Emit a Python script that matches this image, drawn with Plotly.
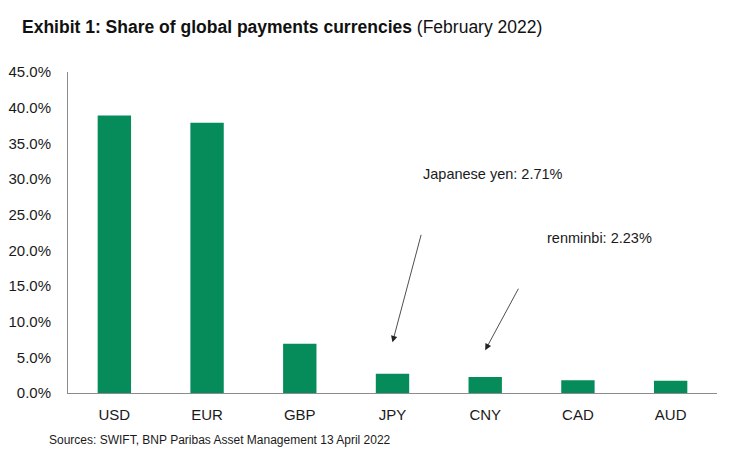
import plotly.graph_objects as go

categories = ["USD", "EUR", "GBP", "JPY", "CNY", "CAD", "AUD"]
shares = [38.9, 37.9, 6.9, 2.71, 2.23, 1.8, 1.7]
y_ticks = [0, 5, 10, 15, 20, 25, 30, 35, 40, 45]
y_tick_labels = [f"{v:.1f}%" for v in y_ticks]

FONT = "Liberation Sans, Arial, sans-serif"
L, R, T, B = 68, 717, 72, 393
PW, PH = R - L, B - T

fig = go.Figure()
fig.add_trace(go.Bar(
    x=categories, y=shares,
    marker=dict(color="#058C5A", line=dict(width=0)),
    width=0.36,
))

fig.update_layout(
    width=754, height=458,
    margin=dict(l=L, r=754 - R, t=T, b=458 - B, autoexpand=False),
    paper_bgcolor="white", plot_bgcolor="white",
    showlegend=False,
    font=dict(family=FONT, size=15, color="#1a1a1a"),
    title=dict(
        text="<b>Exhibit 1: Share of global payments currencies</b> (February 2022)",
        x=22/754, xanchor="left", y=1-27/458, yanchor="middle",
        font=dict(family=FONT, size=17.5, color="#111111"),
    ),
    xaxis=dict(
        showline=True, linecolor="#8c8c8c", linewidth=1,
        ticks="", showgrid=False, tickfont=dict(size=15),
        ticklabelstandoff=8, automargin=False,
    ),
    yaxis=dict(
        range=[0, 45], tickvals=y_ticks, ticktext=y_tick_labels,
        showline=True, linecolor="#8c8c8c", linewidth=1,
        showgrid=False, zeroline=False, ticks="",
        tickfont=dict(size=15), ticklabelstandoff=13, automargin=False,
    ),
    annotations=[
        dict(x="JPY", y=7.1, xref="x", yref="y", ax=29, ay=-109,
             axref="pixel", ayref="pixel", text="", showarrow=True,
             arrowhead=2, arrowsize=1.6, arrowwidth=0.8, arrowcolor="#222"),
        dict(x="CNY", y=6.0, xref="x", yref="y", ax=34, ay=-63,
             axref="pixel", ayref="pixel", text="", showarrow=True,
             arrowhead=2, arrowsize=1.6, arrowwidth=0.8, arrowcolor="#222"),
        dict(x=(421-L)/PW, y=(B-174)/PH, xref="paper", yref="paper",
             text="Japanese yen: 2.71%", showarrow=False,
             xanchor="left", yanchor="middle", font=dict(size=14.5)),
        dict(x=(545-L)/PW, y=(B-238)/PH, xref="paper", yref="paper",
             text="renminbi: 2.23%", showarrow=False,
             xanchor="left", yanchor="middle", font=dict(size=14.5)),
        dict(x=(47-L)/PW, y=(B-440)/PH, xref="paper", yref="paper",
             text="Sources: SWIFT, BNP Paribas Asset Management 13 April 2022",
             showarrow=False, xanchor="left", yanchor="middle",
             font=dict(size=12)),
    ],
)

fig.write_html("out.html")
